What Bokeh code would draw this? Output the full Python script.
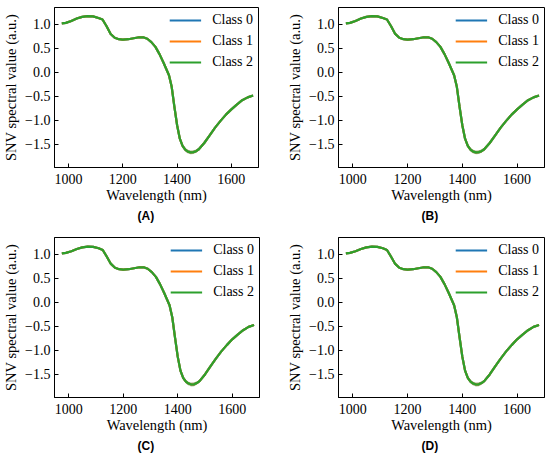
from bokeh.plotting import figure
from bokeh.models import (Title, FixedTicker, CustomJSTickFormatter, Range1d,
                          ColumnDataSource)
from bokeh.layouts import column, row
from bokeh.embed import file_html
from bokeh.resources import INLINE

# ---------------- data ----------------
wavelength = [975, 990, 1010, 1030, 1050, 1070, 1090, 1110, 1125, 1140,
              1155, 1170, 1185, 1200, 1220, 1240, 1260, 1275, 1290, 1305,
              1320, 1335, 1350, 1360, 1370, 1380, 1390, 1400, 1410, 1420,
              1430, 1440, 1450, 1460, 1470, 1480, 1500, 1520, 1540, 1560,
              1580, 1600, 1620, 1640, 1660, 1680]

snv_ab = [1.02, 1.03, 1.07, 1.12, 1.155, 1.17, 1.165, 1.13, 1.10, 0.96,
          0.80, 0.72, 0.69, 0.68, 0.69, 0.71, 0.73, 0.73, 0.70, 0.63,
          0.53, 0.38, 0.20, 0.07, -0.06, -0.30, -0.72, -1.10, -1.38, -1.53,
          -1.61, -1.65, -1.665, -1.66, -1.64, -1.60, -1.47, -1.31, -1.15, -1.01,
          -0.88, -0.77, -0.67, -0.58, -0.52, -0.48]

snv_cd = [1.02, 1.03, 1.065, 1.11, 1.145, 1.16, 1.155, 1.125, 1.09, 0.95,
          0.80, 0.72, 0.69, 0.68, 0.69, 0.71, 0.73, 0.73, 0.70, 0.63,
          0.53, 0.38, 0.20, 0.07, -0.06, -0.31, -0.73, -1.13, -1.42, -1.57,
          -1.65, -1.69, -1.71, -1.705, -1.68, -1.64, -1.50, -1.33, -1.17, -1.02,
          -0.89, -0.77, -0.67, -0.58, -0.51, -0.47]

spread = [0.01, 0.01, 0.01, 0.012, 0.015, 0.015, 0.015, 0.015, 0.015, 0.015,
          0.012, 0.01, 0.01, 0.01, 0.01, 0.01, 0.01, 0.01, 0.01, 0.012,
          0.012, 0.015, 0.015, 0.015, 0.015, 0.02, 0.025, 0.03, 0.035, 0.04,
          0.04, 0.04, 0.04, 0.04, 0.035, 0.03, 0.025, 0.02, 0.02, 0.015,
          0.015, 0.015, 0.015, 0.015, 0.015, 0.015]

classes = ["Class 0", "Class 1", "Class 2"]
colors = ["#1f77b4", "#ff7f0e", "#2ca02c"]
panel_labels = ["(A)", "(B)", "(C)", "(D)"]
panel_data = [snv_ab, snv_ab, snv_cd, snv_cd]
x_ticks = [1000, 1200, 1400, 1600]
y_ticks = [-1.5, -1.0, -0.5, 0.0, 0.5, 1.0]

SERIF = "Liberation Serif"

# geometry per panel: (min_border_left, right, top, bottom)
geom = [(52, 17, 7, 62), (63, 6, 6, 61),
        (52, 16, 8, 60), (63, 6, 8, 61)]


def make_panel(i):
    bl, br, bt, bb = geom[i]
    p = figure(width=275, height=229, output_backend="svg",
               toolbar_location=None,
               x_range=Range1d(948, 1700), y_range=Range1d(-1.98, 1.35),
               min_border_left=bl, min_border_right=br,
               min_border_top=bt, min_border_bottom=bb)
    p.grid.visible = False
    p.outline_line_color = "black"
    p.outline_line_alpha = 1
    p.outline_line_width = 1
    p.background_fill_color = "white"
    p.border_fill_color = "white"

    vals = panel_data[i]
    for cls, col in zip(classes, colors):
        src = ColumnDataSource(dict(
            x=wavelength, y=vals,
            lo=[v - s for v, s in zip(vals, spread)],
            hi=[v + s for v, s in zip(vals, spread)]))
        p.varea(x="x", y1="lo", y2="hi", source=src, fill_color=col,
                fill_alpha=0.2)
        p.line(x="x", y="y", source=src, line_color=col, line_width=2.2,
               legend_label=cls)

    for ax in (p.xaxis[0], p.yaxis[0]):
        ax.major_tick_in = 4
        ax.major_tick_out = 0
        ax.minor_tick_in = 0
        ax.minor_tick_out = 0
        ax.axis_line_color = "black"
        ax.major_tick_line_color = "black"
        ax.major_label_text_font = SERIF
        ax.major_label_text_font_size = "14px"
        ax.major_label_text_color = "black"
        ax.axis_label_text_font = SERIF
        ax.axis_label_text_font_size = "14.5px"
        ax.axis_label_text_font_style = "normal"
        ax.axis_label_text_color = "black"

    p.xaxis.ticker = FixedTicker(ticks=x_ticks)
    p.yaxis.ticker = FixedTicker(ticks=y_ticks)
    p.yaxis.formatter = CustomJSTickFormatter(
        code="return tick.toFixed(1).replace('-', '\\u2212');")
    p.xaxis.axis_label = "Wavelength (nm)"
    p.yaxis.axis_label = "SNV spectral value (a.u.)"
    p.xaxis.major_label_standoff = 6
    p.xaxis.axis_label_standoff = 0
    p.yaxis.major_label_standoff = 4
    p.yaxis.axis_label_standoff = 3

    lg = p.legend[0]
    lg.location = "top_right"
    lg.border_line_color = None
    lg.background_fill_alpha = 0
    lg.margin = 5
    lg.padding = 0
    lg.spacing = 5
    lg.glyph_width = 32
    lg.glyph_height = 16
    lg.label_height = 16
    lg.label_standoff = 11
    lg.label_text_font = SERIF
    lg.label_text_font_size = "14px"
    lg.label_text_color = "black"

    p.add_layout(Title(text=panel_labels[i], align="left", offset=83,
                       standoff=3, text_font="Liberation Sans",
                       text_font_style="bold", text_font_size="12px",
                       text_color="black"), "below")
    return p


panels = [make_panel(i) for i in range(4)]
layout = column(row(panels[0], panels[1]), row(panels[2], panels[3]))

open("out.html", "w").write(file_html(layout, INLINE))
